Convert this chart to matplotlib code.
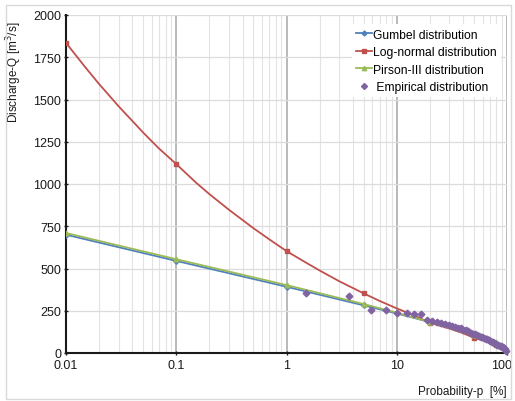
import matplotlib
matplotlib.use("Agg")
import matplotlib.pyplot as plt
from matplotlib.patches import Rectangle
from matplotlib.ticker import LogLocator, FixedLocator, NullFormatter
from matplotlib.transforms import ScaledTranslation

plt.rcParams['font.family'] = ['Liberation Sans', 'DejaVu Sans']

# ---- data ----
gumbel_p = [0.01, 0.1, 1, 5, 10, 20, 30, 50, 65, 80, 90, 95, 99.9]
gumbel_q = [700, 545, 392, 282, 234, 183, 152, 108, 80, 51, 27, 10, 0]
gumbel_mark = [0, 1, 2, 3, 5, 7, 9, 12]

lognorm_p = [0.01, 0.015, 0.02, 0.03, 0.05, 0.07, 0.1, 0.15, 0.2, 0.3, 0.5, 0.7,
             1, 1.5, 2, 3, 5, 7, 10, 15, 20, 30, 40, 50, 65, 80, 90, 99.9]
lognorm_q = [1835, 1690, 1591, 1460, 1305, 1209, 1118, 1010, 940, 848, 739, 672,
             603, 535, 488, 425, 353, 308, 264, 217, 178, 145, 117, 90, 70, 47, 34, 8]
lognorm_mark = [0, 6, 12, 16, 20, 23, 25, 27]

pearson_p = [0.01, 0.1, 1, 5, 10, 20, 30, 50, 65, 80, 90, 95, 99, 99.9]
pearson_q = [710, 555, 402, 290, 238, 183, 150, 104, 82, 63, 45, 30, 12, 2]
pearson_mark = [0, 1, 2, 3, 5, 7, 9, 13]

emp_p = [1.51, 3.66, 5.82, 7.97, 10.1, 12.3, 14.4, 16.6, 18.8, 20.9,
         23.1, 25.2, 27.4, 29.5, 31.7, 33.8, 36.0, 38.1, 40.3, 42.5,
         44.6, 46.8, 48.9, 51.1, 53.2, 55.4, 57.5, 59.7, 61.9, 64.0,
         66.2, 68.3, 70.5, 72.6, 74.8, 76.9, 79.1, 81.3, 83.4, 85.6,
         87.7, 89.9, 92.0, 94.2, 96.3, 98.5]
emp_q = [353, 337, 256, 252, 237, 235, 233, 231, 197, 191,
         181, 176, 169, 163, 158, 153, 149, 145, 139, 134,
         128, 121, 115, 110, 105, 100, 96, 92, 88, 84,
         80, 76, 71, 67, 63, 58, 54, 50, 47, 44,
         41, 37, 33, 28, 22, 12]

y_ticks = [0, 250, 500, 750, 1000, 1250, 1500, 1750, 2000]
x_ticks = [0.01, 0.1, 1, 10, 100]
x_tick_labels = ['0.01', '0.1', '1', '10', '100']

c_blue = '#4F81BD'
c_red = '#C0504D'
c_green = '#9BBB59'
c_purple = '#8064A2'

fig = plt.figure(figsize=(5.15, 4.02), dpi=100)
fig.patches.append(Rectangle((6 / 515, 2 / 402), 505 / 515, 394 / 402,
                             transform=fig.transFigure, fill=False,
                             edgecolor='#d9d9d9', linewidth=1.0))
ax = fig.add_axes([66 / 515, 1 - 354 / 402, 441 / 515, 338 / 402])

ax.set_xscale('log')
ax.set_xlim(0.01, 100)
ax.set_ylim(0, 2000)

# grid
ax.xaxis.set_major_locator(FixedLocator(x_ticks))
ax.xaxis.set_minor_locator(LogLocator(base=10, subs=range(2, 10)))
ax.xaxis.set_minor_formatter(NullFormatter())
ax.set_xticks(x_ticks)
ax.set_xticklabels(x_tick_labels)
ax.set_yticks(y_ticks)
ax.grid(True, which='major', axis='x', color='#a6a6a6', linewidth=1.1)
ax.grid(True, which='minor', axis='x', color='#e3e3e3', linewidth=0.8)
ax.grid(True, which='major', axis='y', color='#dcdcdc', linewidth=0.9)
ax.set_axisbelow(True)

for s in ['top', 'right']:
    ax.spines[s].set_visible(False)
for s in ['left', 'bottom']:
    ax.spines[s].set_color('#1a1a1a')
    ax.spines[s].set_linewidth(1.5)

ax.tick_params(axis='both', which='major', labelsize=9, colors='#1a1a1a',
               length=3, width=1.0, direction='inout', pad=2)
ax.tick_params(axis='x', which='minor', length=0)
ax.tick_params(axis='x', which='major', pad=3)

# keep the last x tick label inside the figure
last = ax.get_xticklabels()[-1]
last.set_transform(last.get_transform() + ScaledTranslation(-5 / 100, 0, fig.dpi_scale_trans))

ax.plot(gumbel_p, gumbel_q, color=c_blue, lw=1.3, marker='D', ms=2.8,
        markevery=gumbel_mark, label='Gumbel distribution', zorder=3)
ax.plot(lognorm_p, lognorm_q, color=c_red, lw=1.3, marker='s', ms=2.8,
        markevery=lognorm_mark, label='Log-normal distribution', zorder=3)
ax.plot(pearson_p, pearson_q, color=c_green, lw=1.3, marker='^', ms=3.5,
        markevery=pearson_mark, label='Pirson-III distribution', zorder=4)
ax.plot(emp_p, emp_q, linestyle='none', color=c_purple, marker='D', ms=3.4,
        label=' Empirical distribution', zorder=5, clip_on=False)

leg = ax.legend(loc='upper right', bbox_to_anchor=(1.0, 0.99), fontsize=8.7,
                frameon=True, framealpha=1.0, edgecolor='none', fancybox=False,
                handlelength=1.3, handletextpad=0.1, labelspacing=0.45,
                borderpad=0.35, markerscale=0.9)
leg.get_frame().set_facecolor('white')

ax.set_ylabel('Discharge-Q [m$^3$/s]', fontsize=8.5, color='#1a1a1a')
ax.yaxis.set_label_coords(-0.095, 0.835)
ax.set_xlabel('Probability-p  [%]', fontsize=8.5, color='#1a1a1a', ha='right')
ax.xaxis.set_label_coords(1.0, -0.095)

fig.savefig('out.png', dpi=100)
